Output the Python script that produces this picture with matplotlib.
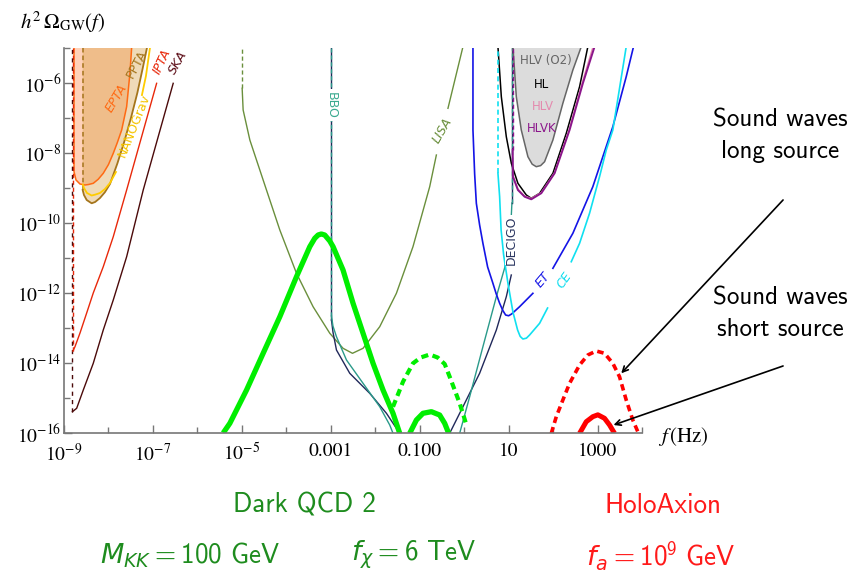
import numpy as np
import matplotlib
matplotlib.use('Agg')
import matplotlib.pyplot as plt
from matplotlib.ticker import FixedLocator, NullFormatter

plt.rcParams['mathtext.fontset'] = 'stix'
plt.rcParams['mathtext.rm'] = 'cmss10'
plt.rcParams['mathtext.sf'] = 'cmss10'
plt.rcParams['mathtext.it'] = 'DejaVu Sans:italic'
plt.rcParams['mathtext.bf'] = 'DejaVu Sans:bold'
plt.rcParams['lines.solid_joinstyle'] = 'round'

# --- data: log10(f/Hz), log10(h^2 Omega_GW) ---
# pulsar timing arrays
epta_lf = [-8.775, -8.775, -8.730, -8.640, -8.528, -8.450, -8.342, -8.230, -8.117, -8.000, -7.892, -7.800, -7.703, -7.591, -7.517, -7.479]
epta_lo = [-5.0, -8.533, -8.771, -8.886, -8.914, -8.900, -8.866, -8.750, -8.580, -8.330, -8.009, -7.700, -7.343, -6.677, -5.723, -5.0]
ppta_lf = [-8.580, -8.551, -8.490, -8.378, -8.300, -8.191, -8.080, -7.966, -7.800, -7.650, -7.490, -7.350, -7.230, -7.135]
ppta_lo = [-9.057, -9.200, -9.343, -9.437, -9.400, -9.286, -9.120, -8.886, -8.300, -7.700, -6.980, -6.280, -5.580, -5.0]
nano_lf = [-8.575, -8.551, -8.483, -8.378, -8.300, -8.191, -8.080, -7.966, -7.831, np.nan, -7.247, -7.157, -7.067]
nano_lo = [-8.900, -9.000, -9.143, -9.214, -9.190, -9.143, -9.030, -8.857, -8.543, np.nan, -6.343, -5.800, -5.0]
ipta_lf = [-8.800, -8.753, -8.640, -8.490, -8.342, -8.117, -7.892, -7.591, -6.917]
ipta_lo = [-13.657, -13.534, -13.143, -12.571, -12.000, -11.249, -10.391, -9.057, -6.009]
ska_lf = [-8.810, -8.715, -8.566, -8.342, -8.117, -7.892, -7.591, -7.218, -6.544]
ska_lo = [-15.391, -15.294, -14.771, -14.009, -13.057, -12.200, -10.963, -9.057, -6.009]

# space based
lisa_lf = [-4.993, -4.971, -4.820, -4.521, -4.146, -3.771, -3.398, -3.022, -2.724, -2.512, -2.274, -1.899, -1.524, -1.151, -0.775, -0.625, np.nan, -0.364, -0.027]
lisa_lo = [-6.151, -6.771, -7.629, -8.771, -10.200, -11.437, -12.391, -13.151, -13.580, -13.723, -13.580, -12.963, -12.009, -10.677, -8.963, -8.057, np.nan, -6.723, -4.963]
bbo_lf = [-2.984, -2.951, -2.872, -2.647, -2.274, -1.899, -1.674, -1.600, np.nan, -0.101, 0.124, 0.422, 0.724, 0.910, 1.000, 1.056, 1.074]
bbo_lo = [-12.657, -12.943, -13.249, -13.914, -14.580, -15.249, -15.771, -16.009, np.nan, -16.009, -14.963, -13.534, -12.106, -11.286, -10.629, -9.914, -9.429]
decigo_lf = [-2.984, -2.951, -2.872, -2.573, -2.124, -1.748, -1.524, -1.411, np.nan, -0.326, -0.027, 0.348, 0.724, 0.948, 1.060]
decigo_lo = [-12.771, -13.114, -13.629, -14.294, -14.866, -15.437, -15.866, -16.009, np.nan, -16.009, -15.249, -14.294, -13.057, -12.106, -11.486]
decigo_top = [1.074, -9.429]

# ground based
et_lf = [0.198, 0.198, 0.236, 0.274, 0.348, 0.422, 0.528, 0.647, 0.720, 0.798, 0.870, 0.933, 1.000, 1.067, 1.247, 1.546, np.nan, 1.996, 2.445, 2.894, 3.344, 3.645, 3.809]
et_lo = [-4.963, -7.343, -8.600, -9.437, -10.057, -10.580, -11.257, -11.723, -12.020, -12.294, -12.500, -12.629, -12.650, -12.600, -12.391, -12.009, np.nan, -11.294, -10.294, -8.963, -7.249, -5.820, -4.963]
ce_lf = [0.760, 0.798, 0.831, 0.888, 0.985, 1.097, 1.202, 1.260, 1.321, 1.400, 1.472, 1.697, 1.876, np.nan, 2.409, 2.596, 2.820, 3.045, 3.196, 3.344, 3.645]
ce_lo = [-8.580, -9.249, -10.200, -10.914, -11.723, -12.543, -13.057, -13.240, -13.314, -13.290, -13.200, -12.866, -12.429, np.nan, -11.106, -10.580, -9.723, -8.677, -7.914, -7.343, -4.963]
hl_lf = [0.760, 0.836, 0.948, 1.061, 1.209, 1.398, 1.510, 1.697, 1.996, 2.297, 2.596, 2.782]
hl_lo = [-4.963, -6.391, -7.534, -8.294, -8.866, -9.200, -9.294, -9.151, -8.580, -7.437, -6.106, -4.963]
hlv_lf = [1.095, 1.209, 1.360, 1.510, 1.735, 2.034, 2.360, 2.650, 2.900]
hlv_lo = [-8.640, -9.030, -9.230, -9.300, -9.130, -8.560, -7.340, -6.020, -4.963]
hlvk_lf = [1.090, 1.097, 1.209, 1.360, 1.510, 1.735, 2.034, 2.371, 2.670, 2.933]
hlvk_lo = [-7.900, -8.677, -9.057, -9.249, -9.323, -9.149, -8.580, -7.343, -6.009, -4.963]
o2_lf = [1.097, 1.173, 1.285, 1.434, 1.530, 1.622, 1.720, 1.809, 1.996, 2.220, 2.445, 2.634]
o2_lo = [-4.963, -6.391, -7.343, -8.106, -8.320, -8.391, -8.360, -8.249, -7.629, -6.580, -5.629, -4.963]

# signals
qcd_lf = [-5.420, -5.270, -4.894, -4.521, -4.146, -3.771, -3.472, -3.360, -3.285, -3.213, -3.135, -3.022, -2.948, -2.724, -2.499, -2.274, -2.049, -1.825, -1.600, -1.449]
qcd_lo = [-16.0, -15.723, -14.771, -13.723, -12.677, -11.534, -10.677, -10.437, -10.343, -10.314, -10.343, -10.514, -10.677, -11.343, -12.294, -13.151, -14.009, -14.771, -15.437, -16.009]
qcd2_lf = [-1.225, -1.074, -0.926, -0.737, -0.551, -0.438, -0.348]
qcd2_lo = [-16.009, -15.629, -15.437, -15.391, -15.486, -15.723, -16.009]
qcd2_long_lf = [-1.600, -1.494, -1.375, -1.151, -0.978, -0.775, -0.596, -0.438, -0.326, -0.213, -0.101, -0.011, 0.063]
qcd2_long_lo = [-15.249, -14.914, -14.534, -14.009, -13.843, -13.757, -13.843, -14.029, -14.391, -14.771, -15.151, -15.514, -15.820]
holo_lf = [2.596, 2.746, 2.894, 3.007, 3.157, 3.270, 3.382]
holo_lo = [-16.009, -15.677, -15.534, -15.480, -15.580, -15.771, -16.009]
holo_long_lf = [1.960, 2.072, 2.220, 2.371, 2.596, 2.782, 2.971, 3.157, 3.344, 3.494, 3.645, 3.793, 3.906]
holo_long_lo = [-16.009, -15.534, -15.057, -14.580, -14.057, -13.771, -13.657, -13.723, -14.009, -14.391, -15.057, -15.629, -15.963]

xtick_vals = [-9, -7, -5, -3, -1, 1, 3]
xtick_labels = [r'$10^{-9}$', r'$10^{-7}$', r'$10^{-5}$', '0.001', '0.100', '10', '1000']
ytick_vals = [-16, -14, -12, -10, -8, -6]
ytick_labels = [r'$10^{-16}$', r'$10^{-14}$', r'$10^{-12}$', r'$10^{-10}$', r'$10^{-8}$', r'$10^{-6}$']


def P(a):
    return 10.0 ** np.asarray(a, dtype=float)


fig = plt.figure(figsize=(8.53, 5.74), dpi=100)
ax = fig.add_axes([0.07503, 0.24564, 0.67761, 0.67073])
ax.set_xscale('log')
ax.set_yscale('log')
ax.set_xlim(1e-9, 1e4)
ax.set_ylim(1e-16, 1e-5)

dash = (3, 2)
thin = 1.0
# PTA fills
ax.fill(P(epta_lf), P(epta_lo), color='#FF7A30', alpha=0.34, lw=0)
ax.fill(P([ppta_lf[0]] + ppta_lf), P([-5.0] + ppta_lo), color='#D49A3A', alpha=0.36, lw=0)

ax.plot(P(epta_lf), P(epta_lo), color='#FF6A13', lw=1.1)
ax.plot(P([ppta_lf[0]] * 2), P([ppta_lo[0], -5]), color='#A5751C', lw=1.1, dashes=dash)
ax.plot(P(ppta_lf), P(ppta_lo), color='#A5751C', lw=1.3)
ax.plot(P(nano_lf), P(nano_lo), color='#FFCC00', lw=1.3)
ax.plot(P([ipta_lf[0]] * 2), P([ipta_lo[0], -5]), color='#E8280A', lw=thin, dashes=dash)
ax.plot(P([ska_lf[0]] * 2), P([ska_lo[0], -5]), color='#4B0A0A', lw=thin, dashes=(3, 3))
ax.plot(P(ipta_lf), P(ipta_lo), color='#E8280A', lw=thin)
ax.plot(P(ska_lf), P(ska_lo), color='#4B0A0A', lw=thin)

# LISA / BBO / DECIGO
ax.plot(P([lisa_lf[0]] * 2), P([lisa_lo[0], -5]), color='#6A8F3C', lw=thin, dashes=dash)
ax.plot(P(lisa_lf), P(lisa_lo), color='#6A8F3C', lw=thin)
ax.plot(P([decigo_lf[0]] * 2), P([decigo_lo[0], -5]), color='#20285A', lw=thin)
ax.plot(P([bbo_lf[0]] * 2), P([bbo_lo[0], -5]), color='#2A9A8A', lw=thin, dashes=dash)
ax.plot(P(decigo_lf), P(decigo_lo), color='#20285A', lw=thin)
ax.plot(P(bbo_lf), P(bbo_lo), color='#2A9A8A', lw=thin)
ax.plot(P([decigo_top[0]] * 2), P([decigo_top[1], -5]), color='#20285A', lw=thin)
ax.plot(P([bbo_lf[-1]] * 2), P([bbo_lo[-1], -5]), color='#2A9A8A', lw=thin, dashes=dash)

# ground based
ax.fill(P(o2_lf), P(o2_lo), color='#DCDCDC', lw=0)
ax.plot(P(o2_lf), P(o2_lo), color='#666666', lw=1.1)
ax.plot(P(hl_lf), P(hl_lo), color='black', lw=1.1)
ax.plot(P(hlv_lf), P(hlv_lo), color='#E48AAE', lw=1.1)
ax.plot(P([hlvk_lf[0]] * 2), P([hlvk_lo[0], -5]), color='#8B168B', lw=thin, dashes=dash)
ax.plot(P(hlvk_lf), P(hlvk_lo), color='#8B168B', lw=1.4)
ax.plot(P(et_lf), P(et_lo), color='#1414E6', lw=1.2)
ax.plot(P([ce_lf[0]] * 2), P([ce_lo[0], -5]), color='#10E0F0', lw=1.2, dashes=dash)
ax.plot(P(ce_lf), P(ce_lo), color='#10E0F0', lw=1.2)

# signals
ax.plot(P(qcd_lf), P(qcd_lo), color='#00EE00', lw=3.8, solid_capstyle='butt')
ax.plot(P(qcd2_lf), P(qcd2_lo), color='#00EE00', lw=3.8, solid_capstyle='butt')
ax.plot(P(qcd2_long_lf), P(qcd2_long_lo), color='#00EE00', lw=3.0, dashes=(1.7, 1.1))
ax.plot(P(holo_lf), P(holo_lo), color='#FF0000', lw=3.6, solid_capstyle='butt')
ax.plot(P(holo_long_lf), P(holo_long_lo), color='#FF0000', lw=2.6, dashes=(1.8, 1.2))

# curve labels
lab = dict(fontsize=9, ha='center', va='center')
ax.text(P(-7.83), P(-6.43), 'EPTA', color='#FF6A13', rotation=59, style='italic', **lab)
ax.text(P(-7.36), P(-5.46), 'PPTA', color='#A5751C', rotation=62, **lab)
ax.text(P(-7.43), P(-7.23), 'NANOGrav', color='#F5C400', rotation=68, **lab)
ax.text(P(-6.80), P(-5.40), 'IPTA', color='#E8280A', rotation=65, style='italic', **lab)
ax.text(P(-6.43), P(-5.43), 'SKA', color='#5A0A14', rotation=60, style='italic', **lab)
ax.text(P(-0.50), P(-7.37), 'LISA', color='#6A8F3C', rotation=60, style='italic', **lab)
ax.text(P(-2.984), P(-6.63), 'BBO', color='#3AAA8F', rotation=-90,
        bbox=dict(fc='white', ec='none', pad=1.5), **lab)
ax.text(P(1.067), P(-10.49), 'DECIGO', color='#2A3560', rotation=90,
        bbox=dict(fc='white', ec='none', pad=0.3), **lab)
ax.text(P(1.764), P(-11.63), 'ET', color='#1A1AE6', rotation=50, style='italic', **lab)
ax.text(P(2.258), P(-11.63), 'CE', color='#10DDEE', rotation=55, style='italic', **lab)
ax.text(P(1.844), P(-5.37), 'HLV (O2)', color='#666666', fontsize=8.5, ha='center', va='center')
ax.text(P(1.735), P(-6.03), 'HL', color='black', fontsize=8.5, ha='center', va='center')
ax.text(P(1.771), P(-6.68), 'HLV', color='#E48AAE', fontsize=8.5, ha='center', va='center')
ax.text(P(1.735), P(-7.31), 'HLVK', color='#8B168B', fontsize=8.5, ha='center', va='center')

# axes style
for s in ['top', 'right']:
    ax.spines[s].set_visible(False)
for s in ['left', 'bottom']:
    ax.spines[s].set_color('#777777')
    ax.spines[s].set_linewidth(1.2)
ax.xaxis.set_major_locator(FixedLocator(P(xtick_vals)))
ax.set_xticklabels(xtick_labels)
ax.xaxis.set_minor_locator(FixedLocator(P([-8, -6, -4, -2, 0, 2, 4])))
ax.xaxis.set_minor_formatter(NullFormatter())
ax.yaxis.set_major_locator(FixedLocator(P(ytick_vals)))
ax.set_yticklabels(ytick_labels)
ax.yaxis.set_minor_locator(FixedLocator(P([-15, -13, -11, -9, -7, -5])))
ax.yaxis.set_minor_formatter(NullFormatter())
ax.tick_params(which='both', direction='in', color='#777777', width=1.0)
ax.tick_params(which='major', length=6)
ax.tick_params(which='minor', length=4)
ax.tick_params(axis='x', pad=7)
ax.tick_params(axis='y', pad=2)
for t in ax.get_xticklabels() + ax.get_yticklabels():
    t.set_fontfamily('STIXGeneral')
    t.set_fontsize(14)

fig.text(0.023, 0.962, r'$h^2\,\Omega_{\mathrm{GW}}(f)$', fontsize=15, ha='left', va='center')
fig.text(0.7714, 0.2387, r'$f\,$(Hz)', fontsize=15, ha='left', va='center', family='STIXGeneral')

# annotations
ax.annotate('', xy=(P(3.533), P(-14.294)), xycoords='data', xytext=(0.918, 0.6516),
            textcoords='figure fraction', annotation_clip=False,
            arrowprops=dict(arrowstyle='->', color='black', lw=1.2, shrinkA=0, shrinkB=0))
ax.annotate('', xy=(P(3.36), P(-15.771)), xycoords='data', xytext=(0.918, 0.3624),
            textcoords='figure fraction', annotation_clip=False,
            arrowprops=dict(arrowstyle='->', color='black', lw=1.2, shrinkA=0, shrinkB=0))
fig.text(0.9144, 0.763, 'Sound waves\nlong source', family='cmss10', fontsize=18,
         ha='center', va='center', linespacing=1.45)
fig.text(0.9144, 0.453, 'Sound waves\nshort source', family='cmss10', fontsize=18,
         ha='center', va='center', linespacing=1.45)

green = '#1E8C1E'
red = '#FF1A1A'
fig.text(0.3564, 0.1202, 'Dark QCD 2', family='cmss10', fontsize=19.5, color=green, ha='center', va='center')
fig.text(0.777, 0.1202, 'HoloAxion', family='cmss10', fontsize=19.5, color=red, ha='center', va='center')
fig.text(0.2227, 0.033, r'$M_{KK} = 100\ \mathrm{GeV}$', fontsize=19.5, color=green,
         ha='center', va='center', math_fontfamily='custom')
fig.text(0.4853, 0.033, r'$f_{\chi} = 6\ \mathrm{TeV}$', fontsize=19.5, color=green,
         ha='center', va='center', math_fontfamily='custom')
fig.text(0.775, 0.033, r'$f_{a} = 10^{9}\ \mathrm{GeV}$', fontsize=19.5, color=red,
         ha='center', va='center', math_fontfamily='custom')

fig.savefig('out.png', dpi=100)
